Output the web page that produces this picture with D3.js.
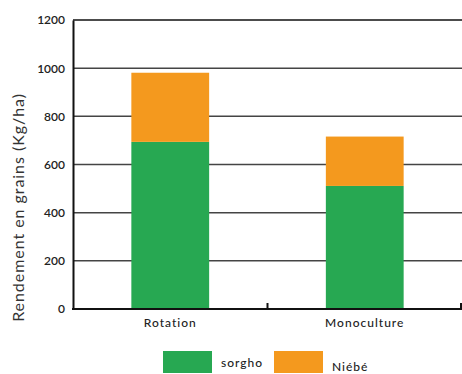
<!DOCTYPE html>
<html>
<head>
<meta charset="utf-8">
<script src="https://cdn.jsdelivr.net/npm/d3@7/dist/d3.min.js"></script>
<style>
  body { margin: 0; background: #fff; }
  svg { display: block; font-family: Lato, "Open Sans", sans-serif; }
</style>
</head>
<body>
<svg id="chart" width="462" height="374"></svg>
<script>
// Yield data (kg/ha) per cropping system
const categories = ["Rotation", "Monoculture"];
const seriesNames = ["sorgho", "Niébé"];
const sorgho = [694, 511];
const niebe = [287, 205];
const yTicks = [0, 200, 400, 600, 800, 1000, 1200];
const colors = ["#27a852", "#f4991e"];

const svg = d3.select("#chart");
const plotLeft = 73, plotRight = 462, plotTop = 20, plotBottom = 309;

const x = d3.scaleBand().domain(categories).range([plotLeft, plotRight])
  .paddingInner(0.6).paddingOuter(0.3);
const y = d3.scaleLinear().domain([0, 1200]).range([plotBottom, plotTop]);

// Horizontal gridlines
svg.append("g").selectAll("line").data(yTicks.filter(d => d > 0)).join("line")
  .attr("x1", plotLeft).attr("x2", plotRight)
  .attr("y1", d => y(d)).attr("y2", d => y(d))
  .attr("stroke", d => d === 1200 ? "#111" : "#444")
  .attr("stroke-width", 1.5);

// Stacked bars
const rows = categories.map((c, i) => ({ cat: c, sorgho: sorgho[i], niebe: niebe[i] }));
const stack = d3.stack().keys(["sorgho", "niebe"])(rows);
svg.append("g").selectAll("g").data(stack).join("g")
  .attr("fill", (d, i) => colors[i])
  .selectAll("rect").data(d => d).join("rect")
  .attr("x", d => x(d.data.cat))
  .attr("width", x.bandwidth())
  .attr("y", d => y(d[1]))
  .attr("height", d => y(d[0]) - y(d[1]));

// Y axis
const yAxis = svg.append("g").attr("transform", `translate(${plotLeft},0)`)
  .call(d3.axisLeft(y).tickValues(yTicks).tickFormat(d3.format("d")).tickSize(0).tickPadding(8));
yAxis.select(".domain").attr("stroke", "#111").attr("stroke-width", 2);
yAxis.selectAll("text").attr("font-size", 12).attr("font-weight", 600)
  .attr("fill", "#222").attr("font-family", "Lato, sans-serif");

// X axis with ticks at band boundaries
svg.append("line").attr("x1", plotLeft - 1).attr("x2", plotRight)
  .attr("y1", plotBottom).attr("y2", plotBottom)
  .attr("stroke", "#111").attr("stroke-width", 2);
const bounds = [(x(categories[0]) + x.bandwidth() + x(categories[1])) / 2, plotRight - 1];
svg.append("g").selectAll("line").data(bounds).join("line")
  .attr("x1", d => d).attr("x2", d => d)
  .attr("y1", plotBottom).attr("y2", plotBottom - 6)
  .attr("stroke", "#111").attr("stroke-width", 2);
svg.append("g").selectAll("text").data(categories).join("text")
  .attr("x", d => x(d) + x.bandwidth() / 2)
  .attr("y", 327)
  .attr("text-anchor", "middle")
  .attr("font-size", 12).attr("font-weight", 500).attr("fill", "#222")
  .attr("letter-spacing", 1)
  .text(d => d);

// Y axis title
svg.append("text")
  .attr("transform", "translate(23.5,207.5) rotate(-90)")
  .attr("text-anchor", "middle")
  .attr("font-size", 16).attr("fill", "#333")
  .attr("letter-spacing", 0.95)
  .text("Rendement en grains (Kg/ha)");

// Legend
const legendX = [163, 274];
const legendTextY = [367, 371];
const lg = svg.append("g").selectAll("g").data(seriesNames).join("g");
lg.append("rect")
  .attr("x", (d, i) => legendX[i]).attr("y", 351)
  .attr("width", 49).attr("height", 22)
  .attr("fill", (d, i) => colors[i]);
lg.append("text")
  .attr("x", (d, i) => legendX[i] + 58).attr("y", (d, i) => legendTextY[i])
  .attr("font-size", 12).attr("font-weight", 500).attr("fill", "#222")
  .attr("letter-spacing", 1)
  .text(d => d);
</script>
</body>
</html>
